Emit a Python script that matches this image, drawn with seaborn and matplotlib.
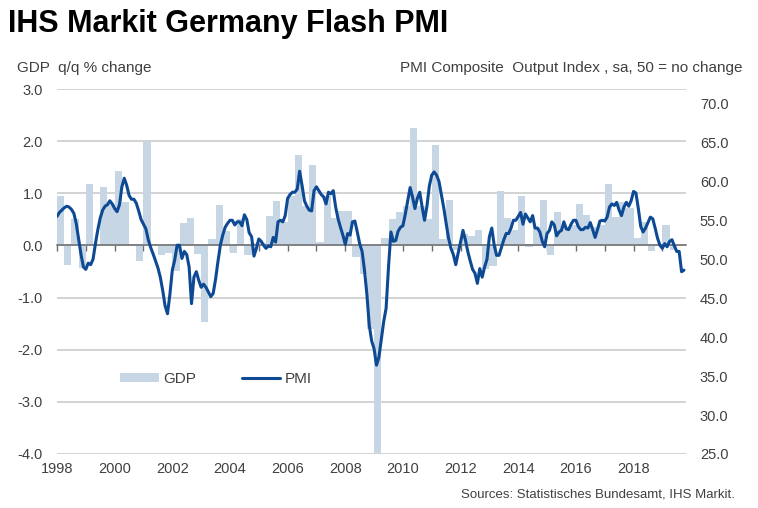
import numpy as np
import pandas as pd
import matplotlib.pyplot as plt
import seaborn as sns
from matplotlib.patches import Patch
from matplotlib.lines import Line2D

# GDP q/q % change, quarterly 1998Q1 - 2019Q2
gdp = [0.94, -0.38, 0.50, -0.43,
       1.17, 0.02, 1.13, 0.80,
       1.42, 0.84, -0.02, -0.30,
       2.00, -0.02, -0.19, -0.15,
       -0.49, 0.43, 0.52, -0.16,
       -1.46, 0.13, 0.78, 0.27,
       -0.14, 0.50, -0.19, 0.05,
       0.05, 0.56, 0.85, 0.45,
       0.95, 1.73, 0.75, 1.54,
       0.07, 0.95, 0.52, 0.66,
       0.66, -0.23, -0.55, -1.60,
       -3.98, 0.15, 0.50, 0.65,
       0.75, 2.25, 0.75, 0.50,
       1.93, 0.12, 0.88, -0.08,
       0.22, 0.18, 0.30, -0.45,
       -0.40, 1.04, 0.53, 0.30,
       0.94, -0.03, 0.35, 0.87,
       -0.19, 0.64, 0.36, 0.40,
       0.80, 0.59, 0.36, 0.40,
       1.18, 0.55, 0.84, 0.71,
       0.14, 0.45, -0.10, 0.02,
       0.39, -0.08]

# PMI Composite Output Index, monthly Jan 1998 - Oct 2019
pmi = [55.5, 56.0, 56.3, 56.6, 56.8, 56.7, 56.4, 55.9, 54.6, 52.6, 50.6, 49.0,
       48.7, 49.5, 49.3, 50.0, 52.0, 53.8, 55.3, 56.3, 56.8, 57.0, 57.5, 57.1,
       56.5, 56.1, 57.0, 59.3, 60.4, 59.5, 58.2, 57.7, 57.7, 57.2, 56.2, 55.1,
       54.5, 53.9, 52.5, 51.5, 50.7, 49.8, 48.9, 47.7, 46.0, 44.0, 43.0, 45.5,
       48.6, 49.9, 51.8, 51.8, 50.1, 51.0, 50.6, 49.0, 44.3, 47.7, 48.4, 47.3,
       46.4, 46.8, 46.4, 45.8, 45.2, 45.6, 47.4, 49.7, 51.8, 53.1, 54.1, 54.6,
       55.0, 55.0, 54.4, 54.8, 54.8, 54.3, 55.7, 55.1, 53.4, 52.9, 50.4, 51.4,
       52.6, 52.3, 51.8, 51.4, 51.7, 51.6, 52.8, 52.2, 54.8, 55.0, 54.8, 55.6,
       57.8, 58.3, 58.6, 58.6, 59.0, 61.3, 59.5, 57.5, 56.8, 56.3, 56.2, 58.8,
       59.3, 58.8, 58.3, 58.0, 57.1, 58.6, 58.4, 58.8, 56.7, 55.2, 54.1, 53.1,
       51.9, 53.3, 53.1, 54.8, 54.9, 53.5, 52.0, 51.0, 48.6, 45.5, 41.5, 39.5,
       38.5, 36.4, 37.4, 39.7, 42.0, 43.7, 49.0, 53.5, 52.3, 52.4, 53.6, 54.1,
       54.3, 55.8, 57.5, 59.2, 58.0, 56.5, 57.8, 58.6, 56.7, 55.0, 56.8, 59.4,
       60.8, 61.2, 60.8, 60.0, 58.3, 56.6, 54.6, 52.7, 51.4, 50.6, 49.3, 50.8,
       52.2, 53.7, 52.5, 51.0, 49.8, 48.7, 48.2, 46.9, 48.8, 47.7, 49.0, 50.0,
       52.9, 54.0, 51.8, 50.5, 50.5, 51.5, 52.5, 53.3, 53.3, 54.0, 55.0, 55.0,
       55.5, 56.0, 54.5, 55.8, 55.3, 54.8, 55.6, 54.0, 54.0, 53.5, 52.3, 51.6,
       53.3, 53.7, 54.8, 54.4, 53.0, 53.5, 53.7, 54.8, 53.9, 53.8, 54.5, 55.0,
       55.0, 54.2, 53.8, 53.8, 54.1, 54.0, 54.7, 53.8, 52.8, 53.8, 54.9, 55.0,
       54.9, 55.4, 56.7, 57.1, 56.9, 57.3, 56.3, 55.6, 56.7, 57.3, 56.8, 57.5,
       58.7, 58.5, 56.5, 54.2, 53.5, 54.0, 54.7, 55.4, 55.2, 54.0, 52.7, 51.8,
       51.4, 52.0, 51.6, 52.3, 52.5, 51.7, 51.0, 51.0, 48.4, 48.6]

years = list(range(1998, 2020))
year_labels = list(range(1998, 2019, 2))
left_ticks = [-4, -3, -2, -1, 0, 1, 2, 3]
right_ticks = [25, 30, 35, 40, 45, 50, 55, 60, 65, 70]

# time axis in decimal years
gdp_df = pd.DataFrame({
    'date': [y + (q + 0.5) / 4 for y in years for q in range(4)][:len(gdp)],
    'gdp': gdp})
pmi_df = pd.DataFrame({
    'date': [y + m / 12 for y in years for m in range(12)][:len(pmi)],
    'pmi': pmi})

bar_color = '#c6d6e5'
line_color = '#0e4a94'
text_color = '#404040'

sns.set_theme(style='white')
plt.rcParams['font.family'] = ['Liberation Sans', 'DejaVu Sans']

fig = plt.figure(figsize=(7.58, 5.08), dpi=100)
ax = fig.add_axes([0.0752, 0.1063, 0.8298, 0.7185])

sns.barplot(data=gdp_df, x='date', y='gdp', ax=ax, native_scale=True, orient='x',
            width=1.0, color=bar_color, saturation=1, errorbar=None, linewidth=0)

ax2 = ax.twinx()
sns.lineplot(data=pmi_df, x='date', y='pmi', ax=ax2, color=line_color, linewidth=2.2)

# left axis
ax.set_xlim(1998, 2019.82)
ax.set_ylim(-4, 3)
ax.set_yticks(left_ticks)
ax.set_yticklabels([f'{v:.1f}' for v in left_ticks])
ax.grid(axis='y', color='#c8c8c8', linewidth=1.1)
ax.grid(axis='x', visible=False)
ax.set_axisbelow(True)
ax.set_xlabel('')
ax.set_ylabel('')
for s in ['top', 'left', 'right']:
    ax.spines[s].set_visible(False)
ax.spines['bottom'].set_position(('data', 0))
ax.spines['bottom'].set_color('#6b6b6b')
ax.spines['bottom'].set_linewidth(1.1)
ax.set_xticks(years)
ax.tick_params(axis='x', direction='out', length=4, width=1, color='#6b6b6b',
               labelbottom=False, bottom=True)
ax.tick_params(axis='y', length=0, pad=10, labelsize=10.5, labelcolor=text_color)

# year labels along the bottom
sec = ax.secondary_xaxis(0)
sec.set_xticks(year_labels)
sec.set_xticklabels([str(y) for y in year_labels])
sec.tick_params(length=0, pad=6, labelsize=10.5, labelcolor=text_color)
sec.spines['bottom'].set_visible(False)

# right axis
ax2.set_ylim(25, 71.85)
ax2.set_yticks(right_ticks)
ax2.set_yticklabels([f'{v:.1f}' for v in right_ticks])
ax2.set_ylabel('')
ax2.grid(False)
for s in ['top', 'left', 'right', 'bottom']:
    ax2.spines[s].set_visible(False)
ax2.tick_params(axis='y', length=0, pad=10, labelsize=10.5, labelcolor=text_color)

handles = [Patch(facecolor=bar_color, edgecolor='none'),
           Line2D([], [], color=line_color, linewidth=2.2)]
leg = ax2.legend(handles, ['GDP', 'PMI'], loc='center', bbox_to_anchor=(0.253, 0.205),
                 ncol=2, frameon=False, fontsize=11, handlelength=2.5, handleheight=0.5,
                 handletextpad=0.3, columnspacing=3.0)
for t in leg.get_texts():
    t.set_color(text_color)

fig.text(0.0106, 0.937, 'IHS Markit Germany Flash PMI', fontsize=22, fontweight='bold',
         color='black', va='baseline', ha='left')
fig.text(0.0224, 0.858, 'GDP  q/q % change', fontsize=11, color=text_color,
         va='baseline', ha='left')
fig.text(0.980, 0.858, 'PMI Composite  Output Index , sa, 50 = no change', fontsize=11,
         color=text_color, va='baseline', ha='right')
fig.text(0.970, 0.0197, 'Sources: Statistisches Bundesamt, IHS Markit.', fontsize=9.5,
         color=text_color, va='baseline', ha='right')

fig.savefig('out.png', dpi=100)
